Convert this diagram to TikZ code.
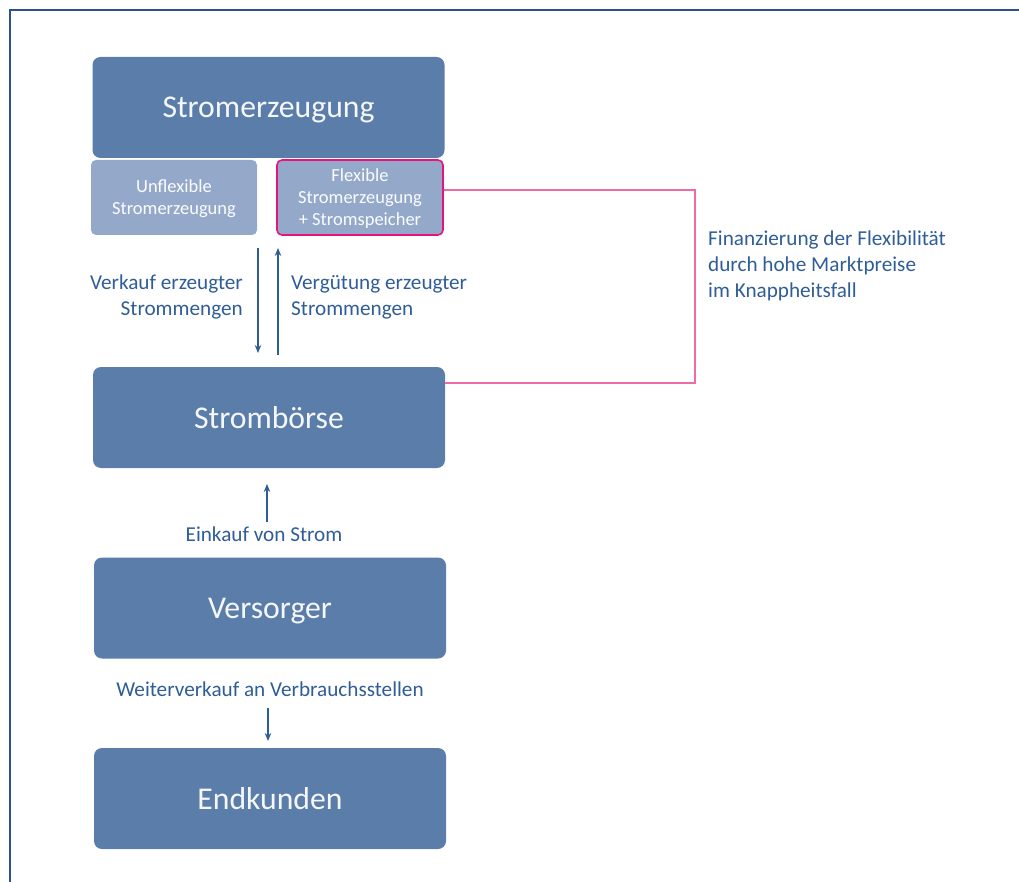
\documentclass[tikz,border=0pt]{standalone}
\usepackage{fontspec}
\setmainfont{Carlito}
\usetikzlibrary{arrows.meta}
\definecolor{boxdark}{HTML}{5B7DAA}
\definecolor{boxlight}{HTML}{94A9CA}
\definecolor{labelblue}{HTML}{2F5D97}
\definecolor{framblue}{HTML}{2B5190}
\definecolor{magentaedge}{HTML}{E5147F}
\definecolor{pinkline}{HTML}{EE6BA8}
% lower a stacked block of lines without changing its reported size
\newcommand{\droppedlines}[2]{\raisebox{-#1}[\height][\depth]{\begin{tabular}{@{}c@{}}#2\end{tabular}}}
\tikzset{
  mainbox/.style={rectangle, rounded corners=8pt, fill=boxdark, text=white!94!boxdark,
    minimum width=352pt, minimum height=101pt, inner sep=0pt,
    text height=21pt, text depth=0pt,
    font=\fontsize{31.7}{36}\selectfont},
  subbox/.style={rectangle, rounded corners=5pt, fill=boxlight, text=white!96!boxlight,
    minimum width=166pt, minimum height=75pt, inner sep=0pt,
    font=\fontsize{18.5}{22}\selectfont},
  lbl/.style={text=labelblue, inner sep=0pt, font=\fontsize{21.2}{26}\selectfont},
  flow/.style={draw=labelblue, line width=1.4pt, -{Stealth[length=8pt,width=6.5pt]}},
  feedback/.style={draw=pinkline, line width=1.5pt}
}
\begin{document}
\begin{tikzpicture}[x=1pt,y=-1pt]
  \useasboundingbox (0,0) rectangle (1019,882);
  % outer frame, running past the right and lower page edges
  \draw[framblue, line width=2pt] (10,10) rectangle (1040,900);

  % market chain
  \node[mainbox] (gen) at (268.5,107.5) {Stromerzeugung};
  \node[subbox] (unflex) at (174,197.5) {\droppedlines{2pt}{Unflexible\\Stromerzeugung}};
  \node[subbox, draw=magentaedge, line width=1.6pt] (flex) at (360,197.5)
    {\droppedlines{1.5pt}{Flexible\\Stromerzeugung\\+ Stromspeicher}};
  \node[mainbox] (boerse) at (269,417.5) {Strombörse};
  \node[mainbox] (versorger) at (270,608) {Versorger};
  \node[mainbox] (endkunden) at (270,798.5) {Endkunden};

  % sale and remuneration between generation and exchange
  \coordinate (sellA) at (258,248);
  \coordinate (sellB) at (258,353);
  \coordinate (payA) at (278,355);
  \coordinate (payB) at (278,248);
  \draw[flow] (sellA) -- (sellB);
  \draw[flow] (payA) -- (payB);
  \node[lbl, align=right, anchor=east] (sellLbl) at (243,297) {Verkauf erzeugter\\Strommengen};
  \node[lbl, align=left, anchor=west] (payLbl) at (291,297) {Vergütung erzeugter\\Strommengen};

  % purchase by the supplier
  \node[lbl] (buyLbl) at (264,534) {Einkauf von Strom};
  \coordinate (buyTip) at (267,484);
  \draw[flow] (buyLbl.north -| buyTip) ++(0,-4) -- (buyTip);

  % resale to end customers
  \node[lbl] (resaleLbl) at (270,689) {Weiterverkauf an Verbrauchsstellen};
  \coordinate (resaleTip) at (268,741);
  \draw[flow] (resaleLbl.south -| resaleTip) ++(0,11) -- (resaleTip);

  % financing loop of flexibility
  \coordinate (loopTop) at (695,190);
  \coordinate (loopBot) at (695,383);
  \draw[feedback] (flex.east |- loopTop) -- (loopTop) -- (loopBot) -- (boerse.east |- loopBot);
  \node[lbl, align=left, anchor=west] (finLbl) at (708,266) {Finanzierung der Flexibilität\\durch hohe Marktpreise\\im Knappheitsfall};
\end{tikzpicture}
\end{document}
